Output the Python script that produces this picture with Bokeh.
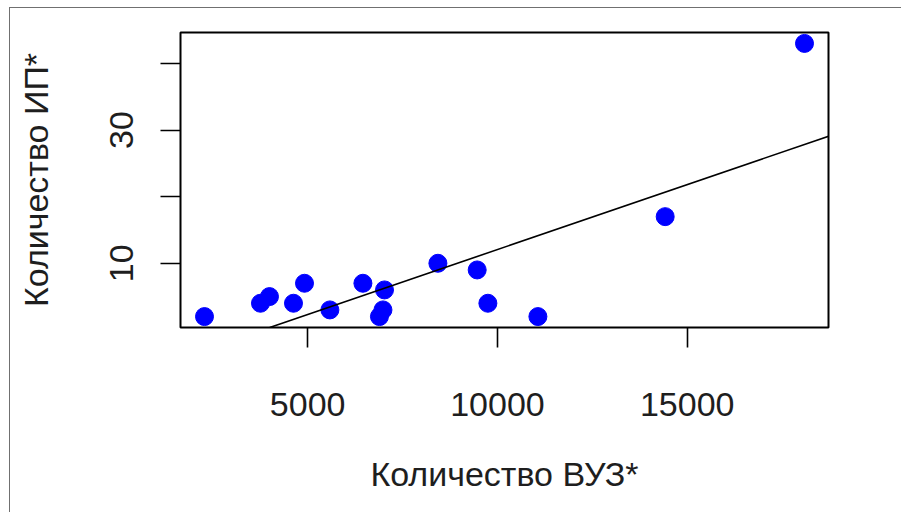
import numpy as np
from bokeh.plotting import figure
from bokeh.models import Range1d, FixedTicker, Slope
from bokeh.embed import file_html
from bokeh.resources import INLINE

# Data
vuz = [2281, 3756, 3993, 4626, 4916, 5585, 6455, 7024, 6891, 6983,
       8431, 9466, 9748, 11066, 14420, 18091]
ip = [2, 4, 5, 4, 7, 3, 7, 6, 2, 3, 10, 9, 4, 2, 17, 43]
x_ticks = [5000, 10000, 15000]
y_ticks = [10, 20, 30, 40]
y_tick_labels = {10: "10", 20: "", 30: "30", 40: ""}
fit_intercept = -7.44
fit_slope = 0.00195
x_title = "Количество ВУЗ*"
y_title = "Количество ИП*"

FONT = "Liberation Sans"
FS = "34px"
TXT = "#1e1e1e"

def padded(vals, frac=0.04):
    lo, hi = min(vals), max(vals)
    d = (hi - lo) * frac
    return lo - d, hi + d

xs, xe = padded(vuz)
ys, ye = padded(ip)

p = figure(width=892, height=505, output_backend="svg", toolbar_location=None,
           x_range=Range1d(xs, xe), y_range=Range1d(ys, ye),
           min_border_left=170, min_border_right=74,
           min_border_top=24, min_border_bottom=186)
p.styles = {"border-top": "1px solid #707070", "border-left": "1px solid #707070",
            "margin-left": "9px", "margin-top": "7px"}

p.background_fill_color = "white"
p.border_fill_color = "white"
p.grid.visible = False
p.outline_line_color = "black"
p.outline_line_width = 2

p.scatter(vuz, ip, size=18, marker="circle", fill_color="#0000FF", line_color="#0000FF")
p.add_layout(Slope(gradient=fit_slope, y_intercept=fit_intercept,
                   line_color="black", line_width=1.6))

for ax in (p.xaxis[0], p.yaxis[0]):
    ax.axis_line_color = None
    ax.major_tick_in = 0
    ax.major_tick_out = 20
    ax.major_tick_line_width = 1.6
    ax.major_tick_line_color = "black"
    ax.minor_tick_line_color = None
    ax.major_label_text_font = FONT
    ax.major_label_text_font_size = FS
    ax.major_label_text_color = TXT
    ax.axis_label_text_font = FONT
    ax.axis_label_text_font_size = FS
    ax.axis_label_text_font_style = "normal"
    ax.axis_label_text_color = TXT

p.xaxis[0].ticker = FixedTicker(ticks=x_ticks)
p.xaxis[0].major_label_standoff = 45
p.xaxis[0].axis_label = x_title
p.xaxis[0].axis_label_standoff = 36

p.yaxis[0].ticker = FixedTicker(ticks=y_ticks)
p.yaxis[0].major_label_overrides = {k: v for k, v in y_tick_labels.items()}
p.yaxis[0].major_label_orientation = "vertical"
p.yaxis[0].major_label_standoff = 27
p.yaxis[0].axis_label = y_title
p.yaxis[0].axis_label_standoff = 53

open("out.html", "w").write(file_html(p, INLINE))
